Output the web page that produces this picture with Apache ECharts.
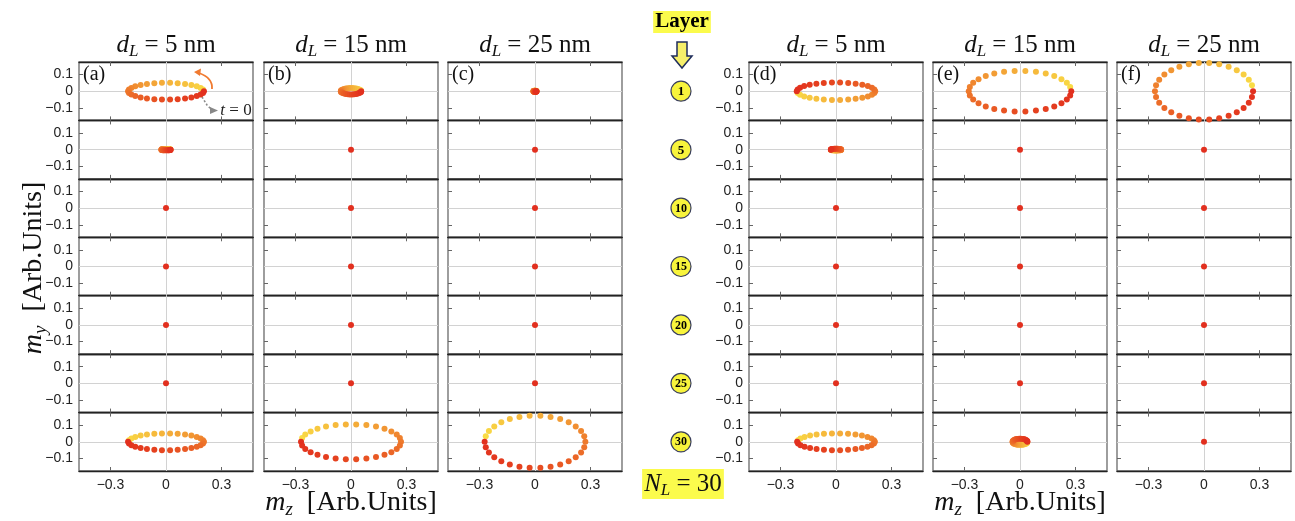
<!DOCTYPE html>
<html><head><meta charset="utf-8">
<script src="https://cdn.jsdelivr.net/npm/echarts@6/dist/echarts.min.js"></script>
<style>html,body{margin:0;padding:0;background:#fff}#c{width:1295px;height:521px}</style>
</head><body><div id="c"></div>
<script>
// ---------- labels ----------
const colThickness = ['5', '15', '25', '5', '15', '25'];
const panelLetters = ['(a)', '(b)', '(c)', '(d)', '(e)', '(f)'];
const layerLabels = ['1', '5', '10', '15', '20', '25', '30'];
const xTickValues = [-0.3, 0, 0.3];
const xTickLabels = ['\u22120.3', '0', '0.3'];
const yTickValues = [-0.1, 0, 0.1];
const yTickLabels = ['\u22120.1', '0', '0.1'];

// ---------- trajectories (m_z, m_y), in time order ----------
const a1_mz = [0.205,0.200,0.187,0.166,0.137,0.103,0.063,0.022,-0.022,-0.063,-0.103,-0.137,-0.166,-0.187,-0.200,-0.205,-0.200,-0.187,-0.166,-0.137,-0.103,-0.063,-0.022,0.022,0.063,0.103,0.137,0.166,0.187,0.200];
const a1_my = [0,-0.010,-0.020,-0.029,-0.037,-0.043,-0.048,-0.050,-0.050,-0.048,-0.043,-0.037,-0.029,-0.020,-0.010,0,0.010,0.020,0.029,0.037,0.043,0.048,0.050,0.050,0.048,0.043,0.037,0.029,0.020,0.010];
const a5_mz = [0.025,0.024,0.023,0.020,0.017,0.013,0.008,0.003,-0.003,-0.008,-0.013,-0.017,-0.020,-0.023,-0.024,-0.025,-0.024,-0.023,-0.020,-0.017,-0.013,-0.008,-0.003,0.003,0.008,0.013,0.017,0.020,0.023,0.024];
const a5_my = [0,-0.001,-0.002,-0.002,-0.003,-0.003,-0.004,-0.004,-0.004,-0.004,-0.003,-0.003,-0.002,-0.002,-0.001,0,0.001,0.002,0.002,0.003,0.003,0.004,0.004,0.004,0.004,0.003,0.003,0.002,0.002,0.001];
const a30_mz = [-0.205,-0.200,-0.187,-0.166,-0.137,-0.103,-0.063,-0.022,0.022,0.063,0.103,0.137,0.166,0.187,0.200,0.205,0.200,0.187,0.166,0.137,0.103,0.063,0.022,-0.022,-0.063,-0.103,-0.137,-0.166,-0.187,-0.200];
const a30_my = [0,-0.010,-0.020,-0.029,-0.037,-0.043,-0.048,-0.050,-0.050,-0.048,-0.043,-0.037,-0.029,-0.020,-0.010,0,0.010,0.020,0.029,0.037,0.043,0.048,0.050,0.050,0.048,0.043,0.037,0.029,0.020,0.010];
const b1_mz = [0.055,0.054,0.050,0.044,0.037,0.028,0.017,0.006,-0.006,-0.017,-0.028,-0.037,-0.044,-0.050,-0.054,-0.055,-0.054,-0.050,-0.044,-0.037,-0.028,-0.017,-0.006,0.006,0.017,0.028,0.037,0.044,0.050,0.054];
const b1_my = [0,-0.004,-0.008,-0.011,-0.014,-0.016,-0.018,-0.019,-0.019,-0.018,-0.016,-0.014,-0.011,-0.008,-0.004,0,0.004,0.008,0.011,0.014,0.016,0.018,0.019,0.019,0.018,0.016,0.014,0.011,0.008,0.004];
const b30_mz = [-0.270,-0.264,-0.247,-0.218,-0.181,-0.135,-0.083,-0.028,0.028,0.083,0.135,0.181,0.218,0.247,0.264,0.270,0.264,0.247,0.218,0.181,0.135,0.083,0.028,-0.028,-0.083,-0.135,-0.181,-0.218,-0.247,-0.264];
const b30_my = [0,-0.022,-0.043,-0.062,-0.078,-0.091,-0.100,-0.104,-0.104,-0.100,-0.091,-0.078,-0.062,-0.043,-0.022,0,0.022,0.043,0.062,0.078,0.091,0.100,0.104,0.104,0.100,0.091,0.078,0.062,0.043,0.022];
const c1_mz = [0.008,0.008,0.007,0.006,0.005,0.004,0.002,0.001,-0.001,-0.002,-0.004,-0.005,-0.006,-0.007,-0.008,-0.008,-0.008,-0.007,-0.006,-0.005,-0.004,-0.002,-0.001,0.001,0.002,0.004,0.005,0.006,0.007,0.008];
const c1_my = [0,-0.001,-0.001,-0.002,-0.002,-0.003,-0.003,-0.003,-0.003,-0.003,-0.003,-0.002,-0.002,-0.001,-0.001,0,0.001,0.001,0.002,0.002,0.003,0.003,0.003,0.003,0.003,0.003,0.002,0.002,0.001,0.001];
const c30_mz = [-0.272,-0.266,-0.249,-0.220,-0.182,-0.136,-0.084,-0.029,0.029,0.084,0.136,0.182,0.220,0.249,0.266,0.272,0.266,0.249,0.220,0.182,0.136,0.084,0.029,-0.029,-0.084,-0.136,-0.182,-0.220,-0.249,-0.266];
const c30_my = [0,-0.033,-0.064,-0.092,-0.117,-0.136,-0.149,-0.156,-0.156,-0.149,-0.136,-0.117,-0.092,-0.064,-0.033,0,0.033,0.064,0.092,0.117,0.136,0.149,0.156,0.156,0.149,0.136,0.117,0.092,0.064,0.033];
const d1_mz = [-0.212,-0.207,-0.194,-0.172,-0.142,-0.106,-0.066,-0.022,0.022,0.066,0.106,0.142,0.172,0.194,0.207,0.212,0.207,0.194,0.172,0.142,0.106,0.066,0.022,-0.022,-0.066,-0.106,-0.142,-0.172,-0.194,-0.207];
const d1_my = [0,0.011,0.021,0.031,0.039,0.045,0.049,0.052,0.052,0.049,0.045,0.039,0.031,0.021,0.011,0,-0.011,-0.021,-0.031,-0.039,-0.045,-0.049,-0.052,-0.052,-0.049,-0.045,-0.039,-0.031,-0.021,-0.011];
const d5_mz = [-0.028,-0.027,-0.026,-0.023,-0.019,-0.014,-0.009,-0.003,0.003,0.009,0.014,0.019,0.023,0.026,0.027,0.028,0.027,0.026,0.023,0.019,0.014,0.009,0.003,-0.003,-0.009,-0.014,-0.019,-0.023,-0.026,-0.027];
const d5_my = [0,0.001,0.002,0.003,0.004,0.004,0.005,0.005,0.005,0.005,0.004,0.004,0.003,0.002,0.001,0,-0.001,-0.002,-0.003,-0.004,-0.004,-0.005,-0.005,-0.005,-0.005,-0.004,-0.004,-0.003,-0.002,-0.001];
const d30_mz = [-0.210,-0.205,-0.192,-0.170,-0.140,-0.105,-0.065,-0.022,0.022,0.065,0.105,0.140,0.170,0.192,0.205,0.210,0.205,0.192,0.170,0.140,0.105,0.065,0.022,-0.022,-0.065,-0.105,-0.140,-0.170,-0.192,-0.205];
const d30_my = [0,-0.010,-0.020,-0.029,-0.037,-0.043,-0.048,-0.050,-0.050,-0.048,-0.043,-0.037,-0.029,-0.020,-0.010,0,0.010,0.020,0.029,0.037,0.043,0.048,0.050,0.050,0.048,0.043,0.037,0.029,0.020,0.010];
const e1_mz = [0.277,0.271,0.253,0.224,0.185,0.139,0.086,0.029,-0.029,-0.086,-0.139,-0.185,-0.224,-0.253,-0.271,-0.277,-0.271,-0.253,-0.224,-0.185,-0.139,-0.086,-0.029,0.029,0.086,0.139,0.185,0.224,0.253,0.271];
const e1_my = [0,-0.025,-0.050,-0.072,-0.091,-0.106,-0.116,-0.121,-0.121,-0.116,-0.106,-0.091,-0.072,-0.050,-0.025,0,0.025,0.050,0.072,0.091,0.106,0.116,0.121,0.121,0.116,0.106,0.091,0.072,0.050,0.025];
const e30_mz = [0.040,0.039,0.037,0.032,0.027,0.020,0.012,0.004,-0.004,-0.012,-0.020,-0.027,-0.032,-0.037,-0.039,-0.040,-0.039,-0.037,-0.032,-0.027,-0.020,-0.012,-0.004,0.004,0.012,0.020,0.027,0.032,0.037,0.039];
const e30_my = [0,0.004,0.007,0.011,0.013,0.016,0.017,0.018,0.018,0.017,0.016,0.013,0.011,0.007,0.004,0,-0.004,-0.007,-0.011,-0.013,-0.016,-0.017,-0.018,-0.018,-0.017,-0.016,-0.013,-0.011,-0.007,-0.004];
const f1_mz = [0.265,0.259,0.242,0.214,0.177,0.133,0.082,0.028,-0.028,-0.082,-0.133,-0.177,-0.214,-0.242,-0.259,-0.265,-0.259,-0.242,-0.214,-0.177,-0.133,-0.082,-0.028,0.028,0.082,0.133,0.177,0.214,0.242,0.259];
const f1_my = [0,-0.035,-0.069,-0.100,-0.126,-0.147,-0.162,-0.169,-0.169,-0.162,-0.147,-0.126,-0.100,-0.069,-0.035,0,0.035,0.069,0.100,0.126,0.147,0.162,0.169,0.169,0.162,0.147,0.126,0.100,0.069,0.035];
const rest_mz = [0];
const rest_my = [0];

// panel table: columns (a)..(f), rows = layers 1,5,...,30
const R = [rest_mz, rest_my];
const panels = [
  [[a1_mz,a1_my],[a5_mz,a5_my],R,R,R,R,[a30_mz,a30_my]],
  [[b1_mz,b1_my],R,R,R,R,R,[b30_mz,b30_my]],
  [[c1_mz,c1_my],R,R,R,R,R,[c30_mz,c30_my]],
  [[d1_mz,d1_my],[d5_mz,d5_my],R,R,R,R,[d30_mz,d30_my]],
  [[e1_mz,e1_my],R,R,R,R,R,[e30_mz,e30_my]],
  [[f1_mz,f1_my],R,R,R,R,R,R]
];

// ---------- layout ----------
const colLeft = [79, 264, 448, 749, 933, 1117];
const colW = 174;
const rowTop0 = 62, rowH = 58.43;
const serif = 'Liberation Serif';
const sans = 'Liberation Sans';

const grids = [], xAxes = [], yAxes = [], series = [];
for (let c = 0; c < 6; c++) {
  for (let r = 0; r < 7; r++) {
    const g = grids.length;
    grids.push({ left: colLeft[c], top: rowTop0 + r * rowH, width: colW, height: rowH,
      show: true, borderColor: '#6a6a6a', borderWidth: 1.3, containLabel: false });
    const xCommon = { type: 'value', gridIndex: g, min: -0.47, max: 0.47,
      splitLine: { show: false } };
    xAxes.push(Object.assign({}, xCommon, { position: 'bottom',
      axisLine: { show: true, onZero: false, lineStyle: { color: '#222', width: 1.3 } },
      axisTick: { show: true, inside: true, length: 4, customValues: xTickValues, lineStyle: { color: '#666' } },
      axisLabel: { show: r === 6, customValues: xTickValues, margin: 7, color: '#222', fontSize: 14, fontFamily: sans,
        formatter: v => xTickLabels[xTickValues.indexOf(Math.round(v * 10) / 10)] } }));
    xAxes.push(Object.assign({}, xCommon, { position: 'top',
      axisLine: { show: true, onZero: false, lineStyle: { color: '#222', width: 1.3 } },
      axisTick: { show: true, inside: true, length: 4, customValues: xTickValues, lineStyle: { color: '#666' } },
      axisLabel: { show: false } }));
    yAxes.push({ type: 'value', gridIndex: g, min: -0.175, max: 0.175,
      splitLine: { show: false },
      axisLine: { show: false, onZero: false },
      axisTick: { show: true, inside: true, length: 4, customValues: yTickValues, lineStyle: { color: '#666' } },
      axisLabel: { show: c === 0 || c === 3, customValues: yTickValues, margin: 6, color: '#222', fontSize: 14, fontFamily: sans,
        formatter: v => yTickLabels[yTickValues.indexOf(Math.round(v * 10) / 10)] } });
    const [mz, my] = panels[c][r];
    // earliest points drawn last (on top), as in the reference
    const data = mz.map((v, i) => [v, my[i], i]).reverse();
    series.push({ type: 'scatter', xAxisIndex: 2 * g, yAxisIndex: g, data,
      symbolSize: 6, z: 3, animation: false, silent: true, itemStyle: { opacity: 1 },
      markLine: { silent: true, z: 1, symbol: ['none', 'none'], label: { show: false }, animation: false,
        lineStyle: { color: '#d2d2d2', width: 1, type: 'solid' },
        data: [{ xAxis: 0 }, { yAxis: 0 }] } });
  }
}

// ---------- texts & annotations ----------
const graphic = [];
const richMath = (size) => ({
  i: { fontFamily: serif, fontStyle: 'italic', fontSize: size, lineHeight: size + 4 },
  s: { fontFamily: serif, fontStyle: 'italic', fontSize: Math.round(size * 0.68), padding: [Math.round(size * 0.5), 0, 0, 0] },
  r: { fontFamily: serif, fontSize: size, lineHeight: size + 4 }
});
for (let c = 0; c < 6; c++) {
  graphic.push({ type: 'text', x: colLeft[c] + colW / 2, y: 45, style: {
    text: '{i|d}{s|L}{r| = ' + colThickness[c] + ' nm}', rich: richMath(25),
    fill: '#111', align: 'center', verticalAlign: 'middle' } });
  graphic.push({ type: 'text', x: colLeft[c] + 4, y: 65, style: {
    text: panelLetters[c], fontFamily: serif, fontSize: 20, fill: '#111', align: 'left', verticalAlign: 'top' } });
}
graphic.push({ type: 'text', x: 34, y: 268, rotation: Math.PI / 2, style: {
  text: '{i|m}{s|y}{r|  [Arb.Units]}', rich: richMath(28), fill: '#111', align: 'center', verticalAlign: 'middle' } });
[colLeft[1] + colW / 2, colLeft[4] + colW / 2].forEach(x => graphic.push({ type: 'text', x, y: 503, style: {
  text: '{i|m}{s|z}{r|  [Arb.Units]}', rich: richMath(28), fill: '#111', align: 'center', verticalAlign: 'middle' } }));

// middle column
graphic.push({ type: 'text', x: 682, y: 22, style: { text: 'Layer', fontFamily: serif, fontWeight: 'bold', fontSize: 21,
  fill: '#000', backgroundColor: '#fbfb4c', padding: [1, 2, 0, 2], align: 'center', verticalAlign: 'middle' } });
graphic.push({ type: 'polygon', shape: { points: [[677,42],[687,42],[687,56],[692,56],[682,68],[672,56],[677,56]] },
  style: { fill: '#f6ef6a', stroke: '#1f2d5c', lineWidth: 1.5 } });
for (let r = 0; r < 7; r++) {
  const cy = rowTop0 + (r + 0.5) * rowH;
  graphic.push({ type: 'circle', shape: { cx: 681, cy, r: 10 }, style: { fill: '#f8f43c', stroke: '#3a3f5c', lineWidth: 1.2 } });
  graphic.push({ type: 'text', x: 681, y: cy + 0.5, style: { text: layerLabels[r], fontFamily: serif, fontWeight: 'bold',
    fontSize: layerLabels[r].length > 1 ? 12 : 13, fill: '#000', align: 'center', verticalAlign: 'middle' } });
}
graphic.push({ type: 'text', x: 683, y: 484, style: { text: '{i|N}{s|L}{r| = 30}', rich: richMath(25),
  fill: '#111', backgroundColor: '#fbfb4c', padding: [0, 2, 0, 2], align: 'center', verticalAlign: 'middle' } });

// annotations in panel (a)
graphic.push({ type: 'bezierCurve', shape: { x1: 212, y1: 89, cpx1: 213, cpy1: 78, x2: 199, y2: 73 },
  style: { stroke: '#f07a30', lineWidth: 1.8, fill: null } });
graphic.push({ type: 'polygon', shape: { points: [[194,72],[201,68.5],[200,76]] }, style: { fill: '#f07a30' } });
graphic.push({ type: 'polyline', shape: { points: [[202,97],[207,105],[211,109]] },
  style: { stroke: '#888', lineWidth: 1.6, lineDash: [2, 2], fill: null } });
graphic.push({ type: 'polygon', shape: { points: [[218,110.5],[210,107],[210,114]] }, style: { fill: '#888' } });
graphic.push({ type: 'text', x: 236, y: 111, style: { text: '{i|t}{r| = 0}', rich: {
  i: { fontFamily: serif, fontStyle: 'italic', fontSize: 17 }, r: { fontFamily: serif, fontSize: 17 } },
  fill: '#222', align: 'center', verticalAlign: 'middle' } });

const chart = echarts.init(document.getElementById('c'), null, { renderer: 'canvas' });
chart.setOption({
  animation: false,
  backgroundColor: '#fff',
  grid: grids, xAxis: xAxes, yAxis: yAxes, series,
  visualMap: { show: false, type: 'continuous', dimension: 2, min: 0, max: 29,
    inRange: { color: ['#e2301f', '#e5401f', '#eb6326', '#f08a30', '#f5b53b', '#f9dc45'] } },
  graphic
});
</script></body></html>
